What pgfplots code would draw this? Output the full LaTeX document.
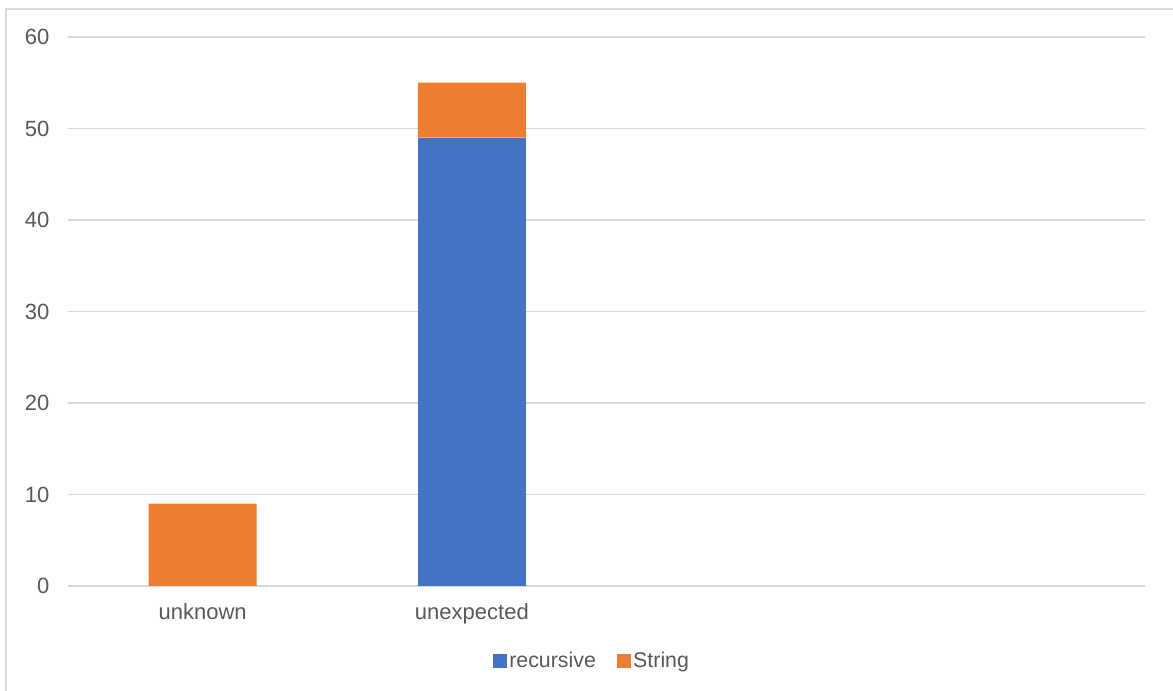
\documentclass[border=0pt]{standalone}
\usepackage{pgfplots}
\pgfplotsset{compat=1.18}
\usepackage{fontspec}
\setmainfont{Liberation Sans}
\definecolor{cblue}{HTML}{4472C4}
\definecolor{corange}{HTML}{ED7D31}
\definecolor{cgrid}{HTML}{D9D9D9}
\definecolor{ctext}{HTML}{595959}
\begin{document}
\begin{tikzpicture}
\useasboundingbox (0,0) rectangle (879.75pt,518.25pt);
\draw[cgrid, line width=1.1pt] (4.5pt,0) -- (4.5pt,511.5pt) -- (879.75pt,511.5pt);
\begin{axis}[
  at={(51pt,78.75pt)}, anchor=south west,
  scale only axis, width=807.75pt, height=411.75pt,
  ybar stacked, bar width=81pt,
  xmin=0, xmax=4, ymin=0, ymax=60,
  ytick={0,10,...,60},
  xtick={0.5,1.5,2.5,3.5},
  xticklabels={unknown,unexpected,,},
  axis x line=bottom, axis y line=left,
  x axis line style={cgrid, line width=1pt, -},
  y axis line style={draw=none},
  major tick length=0pt,
  ymajorgrids, grid style={cgrid, line width=1pt},
  tick label style={font=\fontsize{16.5pt}{19pt}\selectfont, text=ctext},
  /pgf/number format/assume math mode=true,
  yticklabel style={xshift=-10.5pt},
  xticklabel style={yshift=-10pt},
  legend style={at={(0.4870,-0.1366)}, anchor=center, draw=none, legend columns=-1,
    font=\fontsize{16pt}{19pt}\selectfont, text=ctext,
    /tikz/every even column/.append style={column sep=14pt}},
  legend image code/.code={\fill[#1] (0pt,-5pt) rectangle (10pt,5pt);},
]
\addplot[fill=cblue, draw=none] coordinates {(0.5,0) (1.5,49) (2.5,0) (3.5,0)};
\addplot[fill=corange, draw=none] coordinates {(0.5,9) (1.5,6) (2.5,0) (3.5,0)};
\legend{recursive,String}
\end{axis}
\end{tikzpicture}
\end{document}
